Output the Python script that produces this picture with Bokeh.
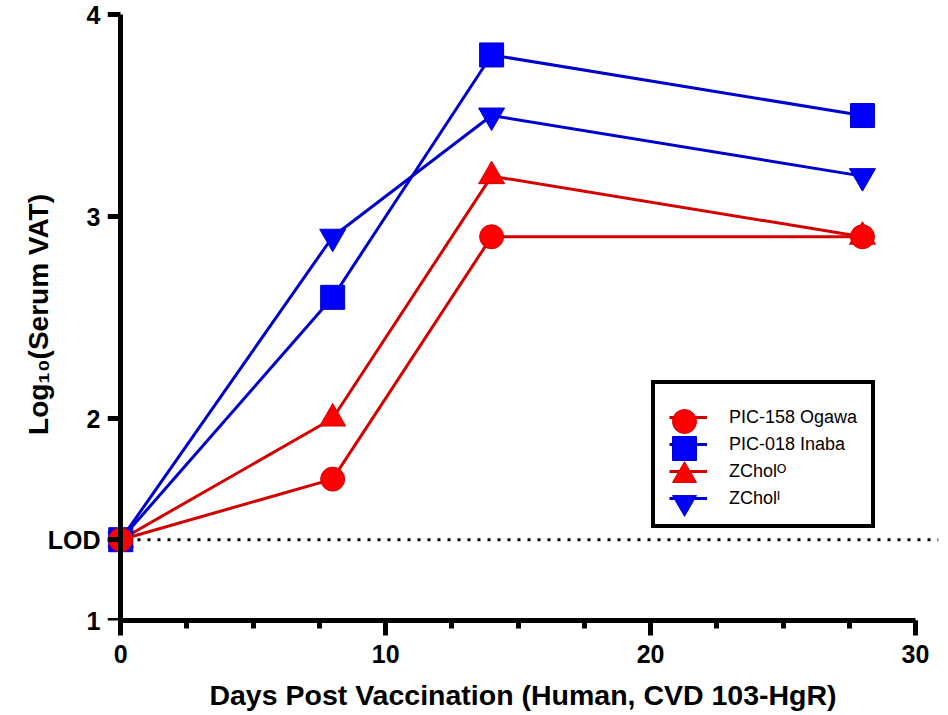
from bokeh.plotting import figure
from bokeh.models import (Range1d, LinearAxis, FixedTicker, SingleIntervalTicker,
                          Span, Legend, LegendItem)
from bokeh.embed import file_html
from bokeh.resources import INLINE

# ---- data ----
days = [0, 8, 14, 28]
ogawa = [1.4, 1.7, 2.9, 2.9]      # PIC-158 Ogawa
inaba = [1.4, 2.6, 3.8, 3.5]      # PIC-018 Inaba
zchol_o = [1.4, 2.0, 3.2, 2.9]    # ZChol^O
zchol_i = [1.4, 2.9, 3.5, 3.2]    # ZChol^I
series_labels = ["PIC-158 Ogawa", "PIC-018 Inaba", "ZChol\u1d3c", "ZChol\u1d35"]
lod = 1.4
y_ticks = [1.0, 1.4, 2.0, 3.0, 4.0]
y_tick_labels = ["1", "LOD", "2", "3", "4"]
x_label = "Days Post Vaccination (Human, CVD 103-HgR)"
y_label = "Log\u2081\u2080(Serum VAT)"

RED_M, RED_L = "#FF0000", "#D40000"
BLUE_M, BLUE_L = "#0000FF", "#0000CC"
FONT = "Liberation Sans"

p = figure(width=948, height=715,
           x_range=Range1d(-0.5, 30.87), y_range=Range1d(1, 4.03),
           output_backend="svg", toolbar_location=None,
           y_axis_location=None,
           min_border_left=107, min_border_right=10, min_border_top=8,
           min_border_bottom=95)
p.outline_line_color = None
p.grid.grid_line_color = None
p.background_fill_color = "white"

# x axis
xa = p.xaxis[0]
xa.ticker = SingleIntervalTicker(interval=10, num_minor_ticks=4)
xa.bounds = (0, 30)
xa.axis_label = x_label

# y axis line + ticks drawn at x = 0
ya = LinearAxis(fixed_location=0, bounds=(1, 4),
                ticker=FixedTicker(ticks=y_ticks, minor_ticks=[]),
                major_label_text_alpha=0)
p.add_layout(ya, "left")

# y tick labels + title (no line / ticks) in the left panel
yl = LinearAxis(ticker=FixedTicker(ticks=y_ticks, minor_ticks=[]),
                major_label_overrides={t: l for t, l in zip(y_ticks, y_tick_labels)},
                axis_label=y_label,
                axis_line_color=None, major_tick_line_color=None,
                minor_tick_line_color=None, major_tick_out=0, major_tick_in=0)
p.add_layout(yl, "left")

for ax in [xa, ya, yl]:
    ax.major_label_text_font = FONT
    ax.major_label_text_font_style = "bold"
    ax.major_label_text_font_size = "25px"
    ax.major_label_text_color = "black"
    ax.axis_label_text_font = FONT
    ax.axis_label_text_font_style = "bold"
    ax.axis_label_text_font_size = "28.5px"
    ax.axis_label_text_color = "black"
yl.axis_label_text_font_size = "28px"

for ax in [xa, ya]:
    ax.axis_line_width = 5
    ax.axis_line_color = "black"
    ax.major_tick_line_width = 5
    ax.minor_tick_line_width = 5
    ax.major_tick_line_color = "black"
    ax.minor_tick_line_color = "black"
    ax.major_tick_in = 0
    ax.minor_tick_in = 0

xa.major_tick_out = 15
xa.minor_tick_out = 8
xa.major_label_standoff = 9
xa.axis_label_standoff = 13
ya.major_tick_out = 13
yl.major_label_standoff = 7
yl.axis_label_standoff = -9

# LOD dotted line
p.add_layout(Span(location=lod, dimension="width", line_color="black",
                  line_width=3, line_dash="3 7", level="underlay"))

series = [
    (zchol_i, "inverted_triangle", 26, BLUE_M, BLUE_L),
    (zchol_o, "triangle", 26, RED_M, RED_L),
    (inaba, "square", 24, BLUE_M, BLUE_L),
    (ogawa, "circle", 24, RED_M, RED_L),
]
lines = {}
marks = {}
for vals, mk, sz, mc, lc in series:
    lines[mk] = p.line(days, vals, line_color=lc, line_width=3)
for vals, mk, sz, mc, lc in series:
    marks[mk] = p.scatter(days, vals, marker=mk, size=sz, fill_color=mc,
                          line_color=lc, line_width=1)

order = ["circle", "square", "triangle", "inverted_triangle"]

# legend: lines + labels + frame
LX, LY, PAD, GW, GH, SP = 544, 92, 14, 38, 24, 3
legA = Legend(items=[LegendItem(label=lab, renderers=[lines[k]])
                     for lab, k in zip(series_labels, order)],
              location=(LX, LY), orientation="vertical",
              glyph_width=GW, glyph_height=GH, label_height=GH, spacing=SP,
              padding=PAD, label_standoff=22, margin=0,
              title=" ", title_text_font_size="5px", title_standoff=1,
              label_text_font=FONT, label_text_font_size="18px",
              label_text_color="black",
              border_line_color="black", border_line_width=4, border_line_alpha=1,
              background_fill_color="white", background_fill_alpha=1)
p.add_layout(legA)

# full-size legend markers, one small legend per row, centred on the glyphs above
MS = 60
n = len(order)
for i, k in enumerate(order):
    cx = LX + PAD + GW / 2
    cy = LY + PAD + GH / 2 + (n - 1 - i) * (GH + SP)
    lg = Legend(items=[LegendItem(label=" ", renderers=[marks[k]])],
                location=(int(round(cx - MS / 2)), int(round(cy - MS / 2))),
                glyph_width=MS, glyph_height=MS, label_height=10,
                padding=0, label_standoff=0, margin=0, spacing=0,
                label_text_font_size="6px",
                border_line_color=None, background_fill_alpha=0)
    p.add_layout(lg)

open("out.html", "w").write(file_html(p, INLINE))
